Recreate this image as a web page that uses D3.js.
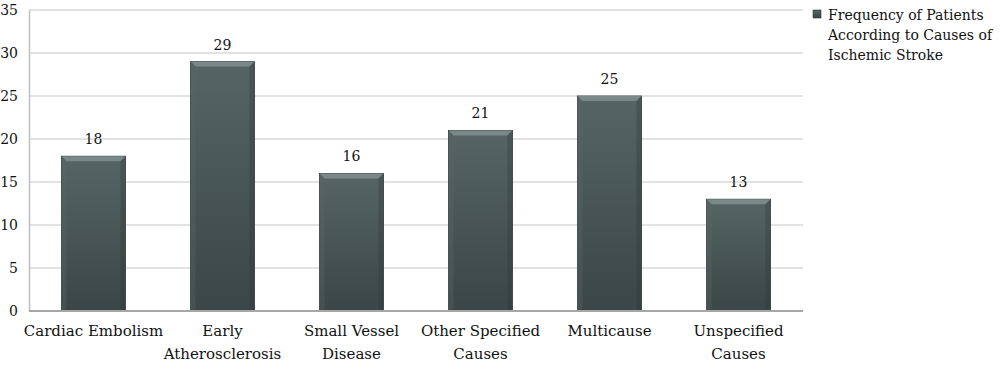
<!DOCTYPE html>
<html>
<head>
<meta charset="utf-8">
<script src="https://cdn.jsdelivr.net/npm/d3@7"></script>
<style>
  body { margin: 0; background: #fff; }
  text { font-family: "DejaVu Serif", serif; fill: #111; }
</style>
</head>
<body>
<div id="chart"></div>
<script>
const categories = [
  ["Cardiac Embolism"],
  ["Early", "Atherosclerosis"],
  ["Small Vessel", "Disease"],
  ["Other Specified", "Causes"],
  ["Multicause"],
  ["Unspecified", "Causes"]
];
const values = [18, 29, 16, 21, 25, 13];
const yTicks = [0, 5, 10, 15, 20, 25, 30, 35];
const legendLines = ["Frequency of Patients", "According to Causes of", "Ischemic Stroke"];

const width = 1000, height = 373;
const margin = { top: 10, right: 197, bottom: 62, left: 29 };

const svg = d3.select("#chart").append("svg")
  .attr("width", width)
  .attr("height", height);

const defs = svg.append("defs");
const grad = defs.append("linearGradient")
  .attr("id", "barGrad")
  .attr("x1", 0).attr("y1", 0).attr("x2", 0).attr("y2", 1);
grad.append("stop").attr("offset", "0%").attr("stop-color", "#566564");
grad.append("stop").attr("offset", "100%").attr("stop-color", "#3b4646");

const x = d3.scaleBand()
  .domain(d3.range(values.length))
  .range([margin.left, width - margin.right])
  .paddingInner(0.505)
  .paddingOuter(0.2525);

const y = d3.scaleLinear()
  .domain([0, 35])
  .range([height - margin.bottom, margin.top]);

// gridlines
svg.append("g")
  .selectAll("line")
  .data(yTicks.filter(d => d > 0))
  .enter().append("line")
  .attr("x1", margin.left)
  .attr("x2", width - margin.right)
  .attr("y1", d => y(d))
  .attr("y2", d => y(d))
  .attr("stroke", "#d9d9d9")
  .attr("stroke-width", 1.5);

// y axis
const yAxis = svg.append("g")
  .attr("transform", "translate(" + margin.left + ",0)")
  .call(d3.axisLeft(y).tickValues(yTicks).tickSize(0).tickPadding(11));
yAxis.select(".domain").attr("stroke", "#bfbfbf").attr("stroke-width", 1.5);
yAxis.selectAll("text")
  .style("font-family", "DejaVu Serif, serif")
  .style("font-size", "14px")
  .attr("fill", "#111");

// bars
const bars = svg.append("g")
  .selectAll("g")
  .data(values)
  .enter().append("g");

bars.append("rect")
  .attr("x", (d, i) => x(i))
  .attr("y", d => y(d))
  .attr("width", x.bandwidth())
  .attr("height", d => y(0) - y(d))
  .attr("fill", "url(#barGrad)")
  .attr("stroke", "#2f3838")
  .attr("stroke-width", 0.8);

// top bevel
const bev = 5;
bars.append("path")
  .attr("d", (d, i) => {
    const x0 = x(i), x1 = x(i) + x.bandwidth(), t = y(d);
    return "M" + x0 + "," + t + "L" + x1 + "," + t +
      "L" + (x1 - bev) + "," + (t + bev) + "L" + (x0 + bev) + "," + (t + bev) + "Z";
  })
  .attr("fill", "#7a8988");

// side bevels
bars.append("path")
  .attr("d", (d, i) => {
    const x0 = x(i), t = y(d), b = y(0);
    return "M" + x0 + "," + t + "L" + (x0 + bev) + "," + (t + bev) +
      "L" + (x0 + bev) + "," + (b - 2) + "L" + x0 + "," + b + "Z";
  })
  .attr("fill", "#5a6868")
  .attr("opacity", 0.35);
bars.append("path")
  .attr("d", (d, i) => {
    const x1 = x(i) + x.bandwidth(), t = y(d), b = y(0);
    return "M" + x1 + "," + t + "L" + (x1 - bev) + "," + (t + bev) +
      "L" + (x1 - bev) + "," + (b - 2) + "L" + x1 + "," + b + "Z";
  })
  .attr("fill", "#2c3535")
  .attr("opacity", 0.3);

// value labels
bars.append("text")
  .attr("x", (d, i) => x(i) + x.bandwidth() / 2)
  .attr("y", d => y(d) - 12)
  .attr("text-anchor", "middle")
  .style("font-size", "14px")
  .text(d => d);

// x axis line
svg.append("line")
  .attr("x1", margin.left)
  .attr("x2", width - margin.right)
  .attr("y1", y(0))
  .attr("y2", y(0))
  .attr("stroke", "#a6a6a6")
  .attr("stroke-width", 2);

// category labels
svg.append("g")
  .selectAll("text")
  .data(categories)
  .enter().append("text")
  .attr("x", (d, i) => x(i) + x.bandwidth() / 2)
  .attr("y", y(0) + 25)
  .attr("text-anchor", "middle")
  .style("font-size", "15px")
  .each(function (d) {
    d3.select(this).selectAll("tspan")
      .data(d)
      .enter().append("tspan")
      .attr("x", d3.select(this).attr("x"))
      .attr("dy", (l, j) => j === 0 ? 0 : 23)
      .text(l => l);
  });

// legend
const legend = svg.append("g").attr("transform", "translate(813,10)");
legend.append("rect")
  .attr("width", 8).attr("height", 8)
  .attr("fill", "url(#barGrad)")
  .attr("stroke", "#2f3838").attr("stroke-width", 0.6);
legend.append("text")
  .attr("x", 15)
  .attr("y", 10)
  .style("font-size", "14px")
  .selectAll("tspan")
  .data(legendLines)
  .enter().append("tspan")
  .attr("x", 15)
  .attr("dy", (l, j) => j === 0 ? 0 : 20)
  .text(l => l);
</script>
</body>
</html>
